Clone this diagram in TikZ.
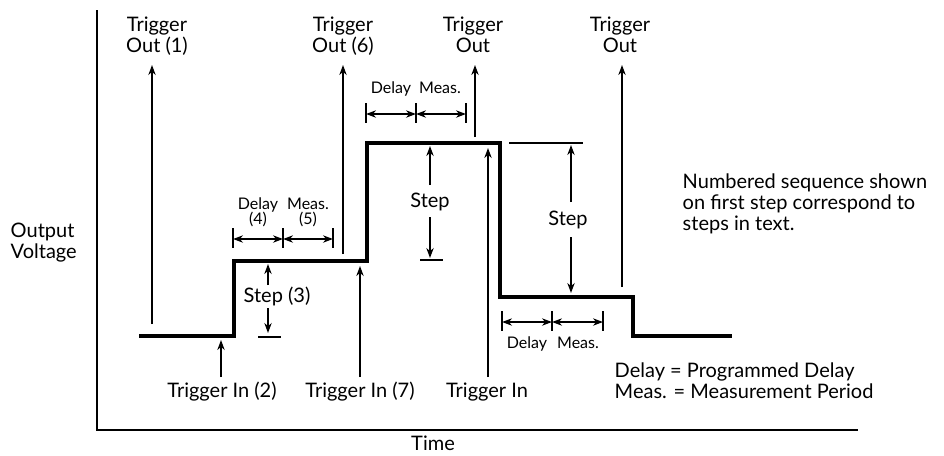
\documentclass[tikz,border=0pt]{standalone}
\usepackage{fontspec}
\setmainfont{Lato}
\usetikzlibrary{arrows.meta}

\tikzset{
  wave/.style={line width=2.4pt, line join=miter},
  axis/.style={line width=2.2pt, line join=miter},
  lbl/.style={inner sep=0pt, font=\fontsize{15}{15.75}\selectfont, align=center},
  smalllbl/.style={inner sep=0pt, font=\fontsize{12}{11.5}\selectfont, align=center}
}

\begin{document}
\begin{tikzpicture}[x=0.75pt, y=-0.75pt, >={Stealth[length=7.5pt,width=5.5pt]}, line width=1.1pt]
  \useasboundingbox (0,0) rectangle (944,455);

  \coordinate (top) at (97,10);
  \coordinate (orig) at (97,430);
  \coordinate (right) at (858,430);
  \draw[axis] (top) -- (orig) -- (right);

  \coordinate (w0) at (139,336);
  \coordinate (w2) at (234,261);
  \coordinate (w4) at (367,143);
  \coordinate (w6) at (500,297);
  \coordinate (w8) at (633,336);
  \coordinate (w9) at (732,336);
  \draw[wave] (w0) -| (w2) -| (w4) -| (w6) -| (w8) -- (w9);

  \foreach \n/\x/\lx/\y/\t in {1/152/157/324/{Trigger\\Out (1)}, 6/343/343/254/{Trigger\\Out (6)},
      a/475/473/137/{Trigger\\Out}, b/622/620/287/{Trigger\\Out}} {
    \node[lbl, anchor=north] (out\n) at (\lx,16) {\t};
    \coordinate (ob\n) at (\x,\y);
    \coordinate (ot\n) at (\x,65);
    \draw[->] (ob\n) -- (ot\n);
  }

  \foreach \n/\x/\lx/\y/\t in {2/221/222/340/{Trigger In (2)}, 7/360/360/266/{Trigger In (7)},
      c/488/487/148/{Trigger In}} {
    \node[lbl, anchor=base] (in\n) at (\lx,397) {\t};
    \coordinate (ib\n) at (\x,377);
    \coordinate (it\n) at (\x,\y);
    \draw[->] (ib\n) -- (it\n);
  }

  \foreach \n/\xa/\xb/\xc/\y in {1/233/283/333/239, 2/366/416/466/114, 3/502/552/603/322} {
    \coordinate (da\n) at (\xa,\y);
    \coordinate (db\n) at (\xb,\y);
    \coordinate (dc\n) at (\xc,\y);
    \draw (da\n) +(0,-11) -- +(0,9) (db\n) +(0,-11) -- +(0,9) (dc\n) +(0,-11) -- +(0,9);
    \draw[<->] (da\n) -- (db\n);
    \draw[<->] (db\n) -- (dc\n);
  }
  \node[smalllbl, anchor=north] (dl1) at (258,197) {Delay\\(4)};
  \node[smalllbl, anchor=north] (ms1) at (308,197) {Meas.\\(5)};
  \node[smalllbl, anchor=base] (dl2) at (391,93) {Delay};
  \node[smalllbl, anchor=base] (ms2) at (440,93) {Meas.};
  \node[smalllbl, anchor=base] (dl3) at (527,348) {Delay};
  \node[smalllbl, anchor=base] (ms3) at (578,348) {Meas.};

  \foreach \n/\x/\ya/\ta/\yb/\tb/\bl/\br/\by in {1/268/285/264/308/333/258/281/337,
      2/430/185/146/217/258/420/443/260, 3/571/202/145/237/293/509/583/143} {
    \coordinate (su\n) at (\x,\ya);
    \coordinate (sut\n) at (\x,\ta);
    \coordinate (sd\n) at (\x,\yb);
    \coordinate (sdt\n) at (\x,\tb);
    \coordinate (bl\n) at (\bl,\by);
    \coordinate (br\n) at (\br,\by);
    \draw[->] (su\n) -- (sut\n);
    \draw[->] (sd\n) -- (sdt\n);
    \draw (bl\n) -- (br\n);
  }
  \node[lbl, anchor=base] (st1) at (277,302) {Step (3)};
  \node[lbl, anchor=base] (st2) at (430,207) {Step};
  \node[lbl, anchor=base] (st3) at (568,225) {Step};

  \node[lbl, align=left, anchor=north west] (ylab) at (10,222) {Output\\Voltage};
  \node[lbl, anchor=base] (xlab) at (433,450) {Time};
  \node[lbl, align=left, anchor=north west] (note) at (682,173)
    {Numbered sequence shown\\on first step correspond to\\steps in text.};
  \node[lbl, align=left, anchor=north west] (legend) at (614,362)
    {Delay = Programmed Delay\\Meas. = Measurement Period};
\end{tikzpicture}
\end{document}
